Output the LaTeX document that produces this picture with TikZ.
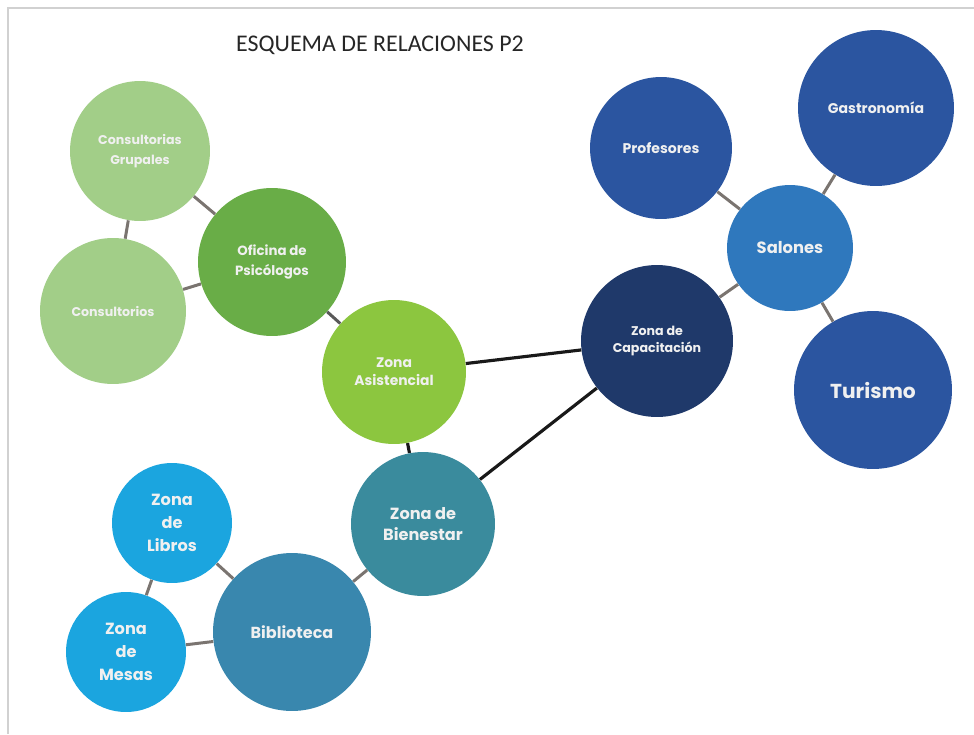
\documentclass[tikz,border=0pt]{standalone}
\usepackage{fontspec}
\usepackage{tikz}
\newfontfamily\lbl{Poppins}
\newfontfamily\ttl{Carlito}
\definecolor{verdeclaro}{HTML}{A2CE88}
\definecolor{verdemedio}{HTML}{69AD47}
\definecolor{verdevivo}{HTML}{8CC63F}
\definecolor{petroleo}{HTML}{3A8B9D}
\definecolor{biblioazul}{HTML}{3987AE}
\definecolor{celeste}{HTML}{1BA5DF}
\definecolor{marino}{HTML}{1F396A}
\definecolor{azul}{HTML}{2B55A0}
\definecolor{azulsalon}{HTML}{2F78BD}
\definecolor{enlace}{HTML}{7A7470}

\begin{document}
\begin{tikzpicture}[
  x=0.02cm, y=-0.02cm,
  bubble/.style={circle, inner sep=0pt, align=center, text=white!94!black,
    font=\lbl\bfseries},
  link/.style={draw=enlace, line width=1.7pt},
  mainlink/.style={draw=black!90, line width=1.8pt}
]
\useasboundingbox[fill=white] (0,0) rectangle (974,734);
\draw[black!18, line width=0.8pt] (8,734) -- (8,8) -- (974,8);

\node[font=\ttl\fontsize{13.6}{15}\selectfont, text=black!85] (titulo) at (380,45) {ESQUEMA DE RELACIONES P2};

% zona asistencial
\node[bubble, fill=verdeclaro, minimum size=2.8cm, font=\lbl\bfseries\fontsize{7.2}{11}\selectfont] (grupales) at (140,151) {Consultorias\\Grupales};
\node[bubble, fill=verdeclaro, minimum size=2.92cm, font=\lbl\bfseries\fontsize{7.2}{11}\selectfont] (consult) at (113,311) {Consultorios};
\node[bubble, fill=verdemedio, minimum size=2.96cm, font=\lbl\bfseries\fontsize{7.6}{11}\selectfont] (oficina) at (272,262) {Oficina de\\Psicólogos};
\node[bubble, fill=verdevivo, minimum size=2.88cm, font=\lbl\bfseries\fontsize{7.9}{10.2}\selectfont] (asist) at (394,372) {Zona\\Asistencial};

% zona de bienestar
\node[bubble, fill=petroleo, minimum size=2.88cm, font=\lbl\bfseries\fontsize{9.2}{12.4}\selectfont] (bienestar) at (423,524) {Zona de\\Bienestar};
\node[bubble, fill=biblioazul, minimum size=3.16cm, font=\lbl\bfseries\fontsize{9.1}{11}\selectfont] (biblio) at (292,632) {Biblioteca};
\node[bubble, fill=celeste, minimum size=2.4cm, font=\lbl\bfseries\fontsize{9.2}{13}\selectfont] (libros) at (172,523) {Zona\\de\\Libros};
\node[bubble, fill=celeste, minimum size=2.4cm, font=\lbl\bfseries\fontsize{9.2}{13}\selectfont] (mesas) at (126,652) {Zona\\de\\Mesas};

% zona de capacitacion
\node[bubble, fill=marino, minimum size=3.04cm, font=\lbl\bfseries\fontsize{7.2}{9.6}\selectfont] (capac) at (657,341) {Zona de\\Capacitación};
\node[bubble, fill=azulsalon, minimum size=2.52cm, font=\lbl\bfseries\fontsize{9.3}{11}\selectfont] (salones) at (790,248) {Salones};
\node[bubble, fill=azul, minimum size=2.84cm, font=\lbl\bfseries\fontsize{8}{9}\selectfont] (profes) at (661,148) {Profesores};
\node[bubble, fill=azul, minimum size=3.12cm, font=\lbl\bfseries\fontsize{8}{9}\selectfont] (gastro) at (876,108) {Gastronomía};
\node[bubble, fill=azul, minimum size=3.16cm, font=\lbl\bfseries\fontsize{11.5}{13}\selectfont] (turismo) at (873,390) {Turismo};

\draw[link] (grupales) -- (consult);
\draw[link] (grupales) -- (oficina);
\draw[link] (consult) -- (oficina);
\draw[link, draw=black!65] (oficina) -- (asist);
\draw[mainlink] (asist) -- (capac);
\draw[mainlink] (asist) -- (bienestar);
\draw[mainlink] (bienestar) -- (capac);
\draw[link] (capac) -- (salones);
\draw[link] (salones) -- (profes);
\draw[link] (salones) -- (gastro);
\draw[link] (salones) -- (turismo);
\draw[link] (bienestar) -- (biblio);
\draw[link] (biblio) -- (libros);
\draw[link] (biblio) -- (mesas);
\draw[link] (libros) -- (mesas);
\end{tikzpicture}
\end{document}
